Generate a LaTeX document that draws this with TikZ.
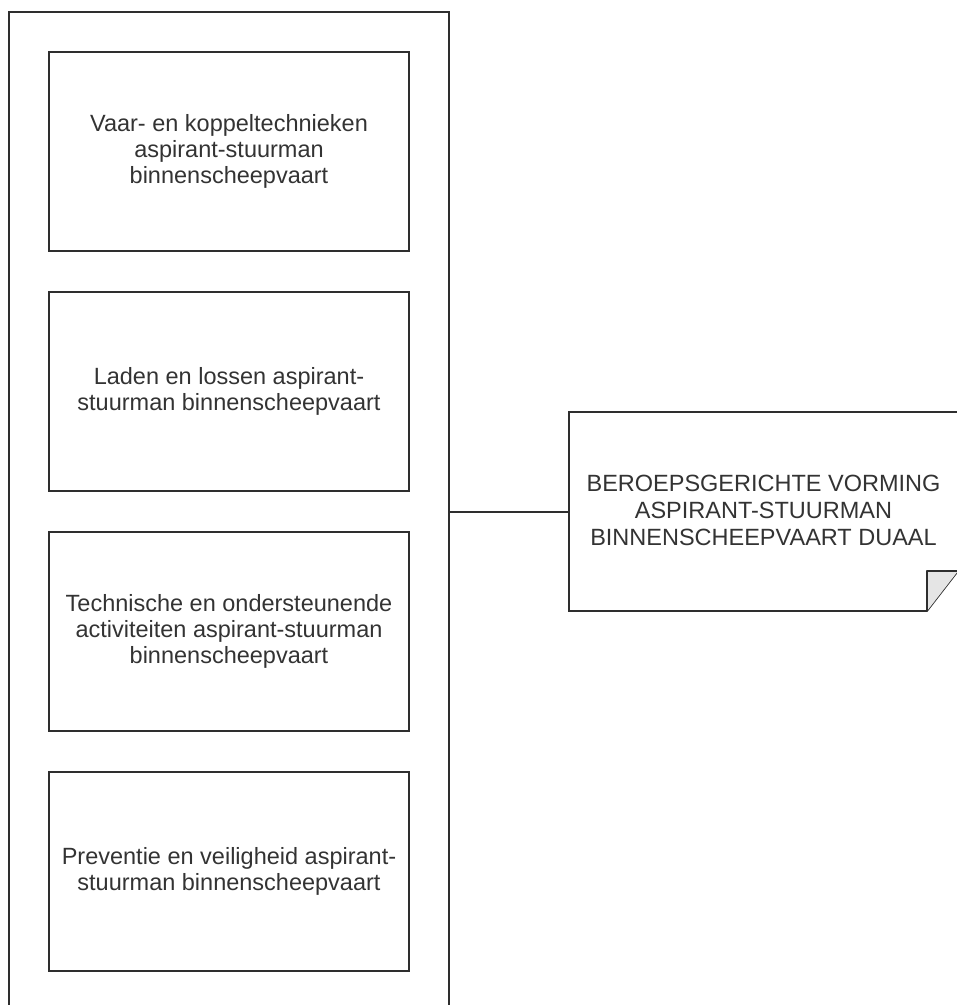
\documentclass[tikz,border=0pt]{standalone}
\usepackage{fontspec}
\setmainfont{Liberation Sans}
\usepackage{tikz}

\begin{document}
\begin{tikzpicture}[x=1pt,y=-1pt,
  line/.style={draw=black!82,line width=1.7pt},
  unitbox/.style={line,rectangle,minimum width=360pt,minimum height=199pt,
    align=center,text=black!80,font=\fontsize{23.5}{26}\selectfont},
  group/.style={line,rectangle,minimum width=440pt,minimum height=1000pt}]
\useasboundingbox (0,0) rectangle (957,1005);
% container with the four parts
\node [group] (grp) at (229,512) {};
\node [unitbox] (vaar) at (229,151.5) {Vaar- en koppeltechnieken\\aspirant-stuurman\\binnenscheepvaart};
\node [unitbox] (laden) at (229,391.5) {Laden en lossen aspirant-\\stuurman binnenscheepvaart};
\node [unitbox] (tech) at (229,631.5) {Technische en ondersteunende\\activiteiten aspirant-stuurman\\binnenscheepvaart};
\node [unitbox] (prev) at (229,871.5) {Preventie en veiligheid aspirant-\\stuurman binnenscheepvaart};
% note
\coordinate (nw) at (569,412);
\coordinate (ne) at (958,412);
\coordinate (fold) at (927,571);
\draw [line,fill=white] (nw) -- (ne) -- (958,571) -- (927,611) -- (569,611) -- cycle;
\draw [line,fill=black!10,line join=round] (927,611) -- (fold) -- (958,571);
\node [align=center,text=black!80,font=\fontsize{23.5}{27}\selectfont] (note) at (763.5,510)
  {BEROEPSGERICHTE VORMING\\ASPIRANT-STUURMAN\\BINNENSCHEEPVAART DUAAL};
\coordinate (notew) at (569,512);
\draw [line] (grp.east) -- (notew);
\end{tikzpicture}
\end{document}
